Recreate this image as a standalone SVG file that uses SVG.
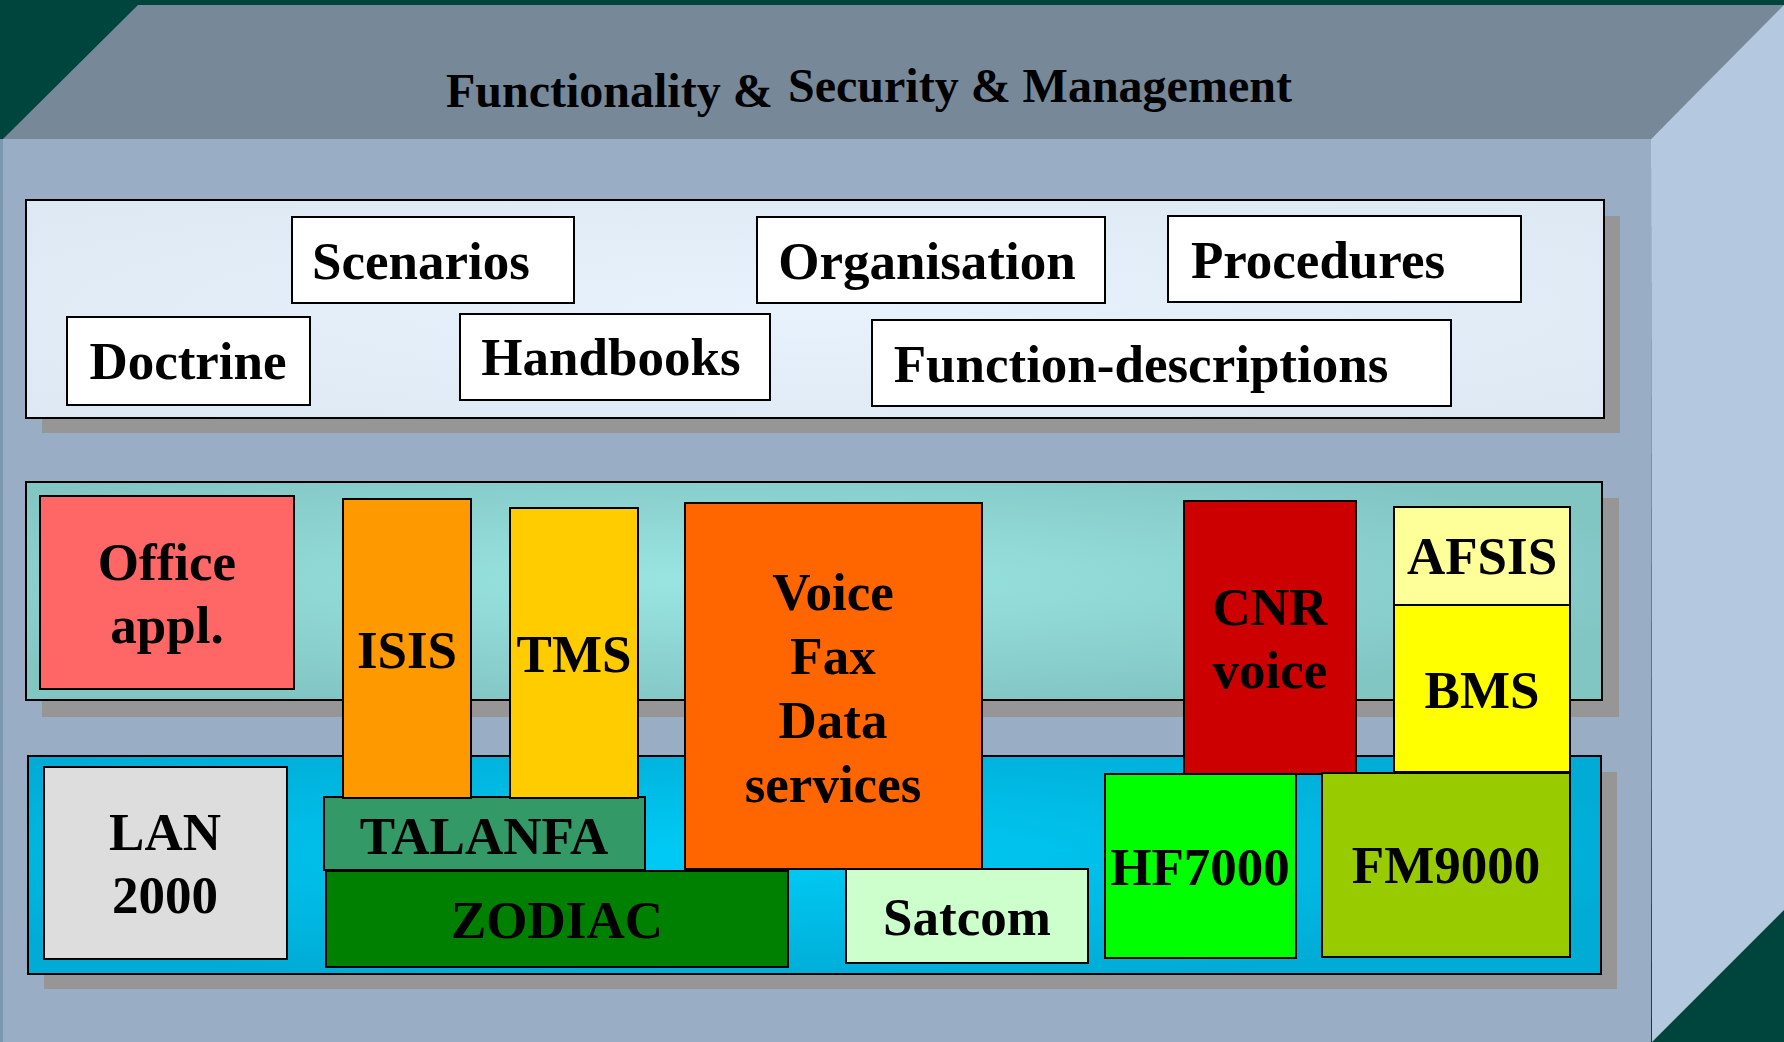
<svg xmlns="http://www.w3.org/2000/svg" width="1784" height="1042" viewBox="0 0 1784 1042">
<defs>
<style>
.lbl{font-family:"Liberation Serif","Times New Roman",serif;font-weight:bold;font-size:53px;fill:#000;text-anchor:middle}
.title{font-family:"Liberation Serif","Times New Roman",serif;font-weight:bold;font-size:48px;fill:#000}
.box{stroke:#000;stroke-width:2}
.shadow{fill:#969696}
</style>
<radialGradient id="gTop" cx="0.5" cy="0.5" r="0.7">
<stop offset="0" stop-color="#e8f2fc"/><stop offset="1" stop-color="#dde8f2"/>
</radialGradient>
<radialGradient id="gMid" cx="0.45" cy="0.45" r="0.6">
<stop offset="0" stop-color="#9ae6e2"/><stop offset="1" stop-color="#82c6c4"/>
</radialGradient>
<radialGradient id="gBot" cx="0.45" cy="0.45" r="0.6">
<stop offset="0" stop-color="#00ccf6"/><stop offset="1" stop-color="#00acd6"/>
</radialGradient>
</defs>
<rect x="0" y="0" width="1784" height="1042" fill="#00453d"/>
<g id="cube">
<polygon points="138,5 1786,5 1651,139 3,139" fill="#778899"/>
<polygon points="1651,139 1784,5 1784,910 1652,1042" fill="#b4c8e0"/>
<rect x="0" y="139" width="1651" height="903" fill="#99aec4"/>
<rect x="0" y="139" width="3" height="903" fill="#7d98ae"/>
</g>
<g id="title">
<text class="title" x="446" y="107">Functionality &amp;</text>
<text class="title" x="788" y="102">Security &amp; Management</text>
</g>
<g id="panel-top">
<rect class="shadow" x="42" y="216" width="1578" height="217"/>
<rect class="box" x="26" y="200" width="1578" height="218" fill="url(#gTop)"/>
</g>
<g id="panel-mid">
<rect class="shadow" x="42" y="498" width="1577" height="219"/>
<rect class="box" x="26" y="482" width="1576" height="218" fill="url(#gMid)"/>
</g>
<g id="panel-bot">
<rect class="shadow" x="44" y="772" width="1573" height="217"/>
<rect class="box" x="28" y="756" width="1573" height="218" fill="url(#gBot)"/>
</g>
<g id="scenarios"><rect class="box" x="292" y="217" width="282" height="86" fill="#fff"/><text class="lbl" x="421" y="279">Scenarios</text></g>
<g id="organisation"><rect class="box" x="757" y="217" width="348" height="86" fill="#fff"/><text class="lbl" x="927" y="279">Organisation</text></g>
<g id="procedures"><rect class="box" x="1168" y="216" width="353" height="86" fill="#fff"/><text class="lbl" x="1318" y="278">Procedures</text></g>
<g id="doctrine"><rect class="box" x="67" y="317" width="243" height="88" fill="#fff"/><text class="lbl" x="188" y="379">Doctrine</text></g>
<g id="handbooks"><rect class="box" x="460" y="314" width="310" height="86" fill="#fff"/><text class="lbl" x="611" y="375">Handbooks</text></g>
<g id="function-descriptions"><rect class="box" x="872" y="320" width="579" height="86" fill="#fff"/><text class="lbl" x="1141" y="382">Function-descriptions</text></g>
<g id="office"><rect class="box" x="40" y="496" width="254" height="193" fill="#ff6666"/><text class="lbl" x="167" y="580">Office</text><text class="lbl" x="167" y="643">appl.</text></g>
<g id="talanfa"><rect class="box" x="324" y="797" width="321" height="73" fill="#339966"/><text class="lbl" x="484" y="854">TALANFA</text></g>
<g id="zodiac"><rect class="box" x="326" y="871" width="462" height="96" fill="#008000"/><text class="lbl" x="557" y="938">ZODIAC</text></g>
<g id="isis"><rect class="box" x="343" y="499" width="128" height="299" fill="#ff9900"/><text class="lbl" x="407" y="668">ISIS</text></g>
<g id="tms"><rect class="box" x="510" y="508" width="128" height="290" fill="#ffcc00"/><text class="lbl" x="574" y="672">TMS</text></g>
<g id="voice"><rect class="box" x="685" y="503" width="297" height="366" fill="#ff6600"/><text class="lbl" x="833" y="610">Voice</text><text class="lbl" x="833" y="674">Fax</text><text class="lbl" x="833" y="738">Data</text><text class="lbl" x="833" y="802">services</text></g>
<g id="satcom"><rect class="box" x="846" y="869" width="242" height="94" fill="#ccffcc"/><text class="lbl" x="967" y="935">Satcom</text></g>
<g id="lan"><rect class="box" x="44" y="767" width="243" height="192" fill="#dddddd"/><text class="lbl" x="165" y="850">LAN</text><text class="lbl" x="165" y="913">2000</text></g>
<g id="cnr"><rect class="box" x="1184" y="501" width="172" height="273" fill="#cc0000"/><text class="lbl" x="1270" y="625">CNR</text><text class="lbl" x="1270" y="688">voice</text></g>
<g id="afsis"><rect class="box" x="1394" y="507" width="176" height="98" fill="#ffff99"/><text class="lbl" x="1482" y="574">AFSIS</text></g>
<g id="bms"><rect class="box" x="1394" y="605" width="176" height="167" fill="#ffff00"/><text class="lbl" x="1482" y="708">BMS</text></g>
<g id="hf7000"><rect class="box" x="1105" y="774" width="191" height="184" fill="#00ff00"/><text class="lbl" x="1200" y="885">HF7000</text></g>
<g id="fm9000"><rect class="box" x="1322" y="773" width="248" height="184" fill="#99cc00"/><text class="lbl" x="1446" y="883">FM9000</text></g>
<g id="connectors"></g>
</svg>
